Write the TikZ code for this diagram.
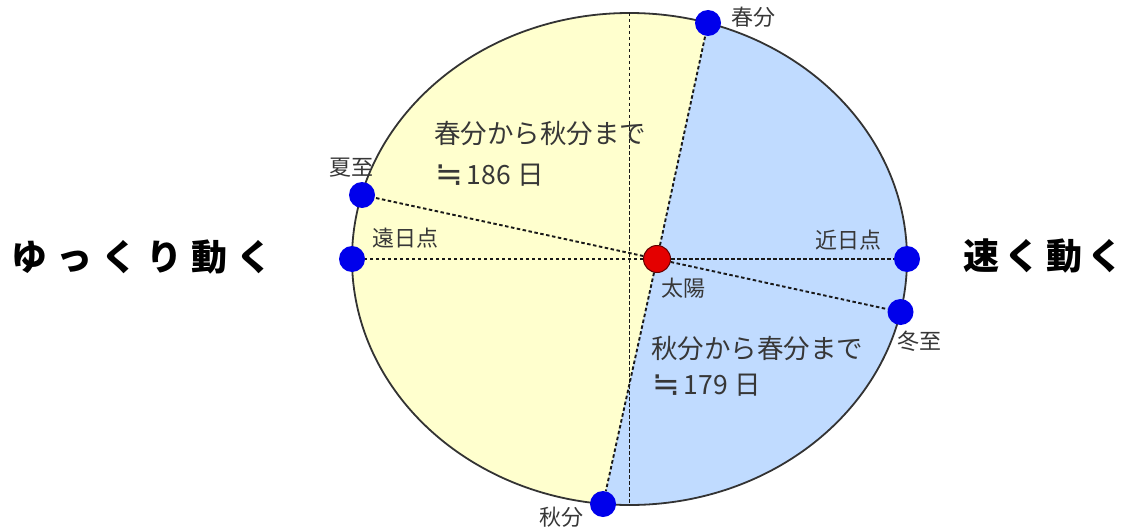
\documentclass[tikz,border=0pt]{standalone}
\usepackage{graphicx}
\usepackage{fontspec}
\newfontfamily\jp{Noto Sans CJK JP}
\newfontfamily\dvs{DejaVu Sans}
\newcommand{\nearlyeq}{\hspace{1pt}\raisebox{-0.05em}{\scalebox{1.25}{\dvs ≒}}\hspace{4pt}}
\definecolor{yel}{RGB}{255,255,206}
\definecolor{blu}{RGB}{192,219,255}
\definecolor{dotblue}{RGB}{0,0,235}
\definecolor{sunred}{RGB}{228,0,0}
\definecolor{sunrim}{RGB}{100,0,0}
\definecolor{txt}{RGB}{55,55,55}
\begin{document}
\begin{tikzpicture}[x=1pt,y=-1pt,
  bluedot/.style={circle,fill=dotblue,inner sep=0pt,minimum size=26pt},
  sunnode/.style={circle,fill=sunred,draw=sunrim,line width=1pt,inner sep=0pt,minimum size=27pt},
  dsh/.style={draw=black!90,line width=1.9pt,dash pattern=on 3.5pt off 2.5pt},
  lbl/.style={font=\jp\fontsize{22}{22}\selectfont,text=txt,inner sep=0pt,anchor=west},
  body/.style={font=\jp\fontsize{26.5}{26.5}\selectfont,text=txt,inner sep=0pt,anchor=base west},
  big/.style={font=\jp\bfseries\fontsize{36}{36}\selectfont,text=black,inner sep=0pt,anchor=west}]
\useasboundingbox (0,0) rectangle (1123,532);
% orbit fills
\fill[yel] (629.5,259) ellipse [x radius=277.5pt, y radius=246pt];
\begin{scope}
  \clip (629.5,259) ellipse [x radius=277.5pt, y radius=246pt];
  \fill[blu] (713,0) -- (597,532) -- (950,532) -- (950,0) -- cycle;
\end{scope}
\draw[draw=black!80,line width=1.8pt] (629.5,259) ellipse [x radius=277.5pt, y radius=246pt];
% axis
\coordinate (etop) at (629.5,13);
\coordinate (ebot) at (629.5,505);
\draw[dsh] (etop) -- (ebot);
% points
\node[sunnode] (sun) at (657,259) {};
\node[bluedot] (shunbun) at (708,23) {};
\node[bluedot] (shubun) at (603,504) {};
\node[bluedot] (geshi) at (362,195) {};
\node[bluedot] (enjitsu) at (352,259) {};
\node[bluedot] (kinjitsu) at (907,259) {};
\node[bluedot] (toji) at (900.5,312) {};
% connectors
\draw[dsh] (sun) -- (shunbun);
\draw[dsh] (sun) -- (shubun);
\draw[dsh] (sun) -- (geshi);
\draw[dsh] (sun) -- (enjitsu);
\draw[dsh] (sun) -- (kinjitsu);
\draw[dsh] (sun) -- (toji);
% labels
\node[lbl] (l1) at (731,17) {春分};
\node[lbl] (l2) at (329,168) {夏至};
\node[lbl] (l3) at (372,238) {遠日点};
\node[lbl] (l4) at (815,240) {近日点};
\node[lbl] (l5) at (897,341) {冬至};
\node[lbl] (l6) at (539,517) {秋分};
\node[lbl] (l7) at (661,288) {太陽};
\node[body] (a1) at (434,143) {春分から秋分まで};
\node[body] (a2) at (434,184) {\nearlyeq186 日};
\node[body] (b1) at (651,358) {秋分から春分まで};
\node[body] (b2) at (651,394) {\nearlyeq179 日};
\node[big] (slow) at (11,257) {ゆ\hspace{9pt}っ\hspace{9pt}く\hspace{9pt}り\hspace{9pt}動\hspace{9pt}く};
\node[big] (fast) at (963,256) {速\hspace{5.5pt}く\hspace{5.5pt}動\hspace{5.5pt}く};
\end{tikzpicture}
\end{document}
